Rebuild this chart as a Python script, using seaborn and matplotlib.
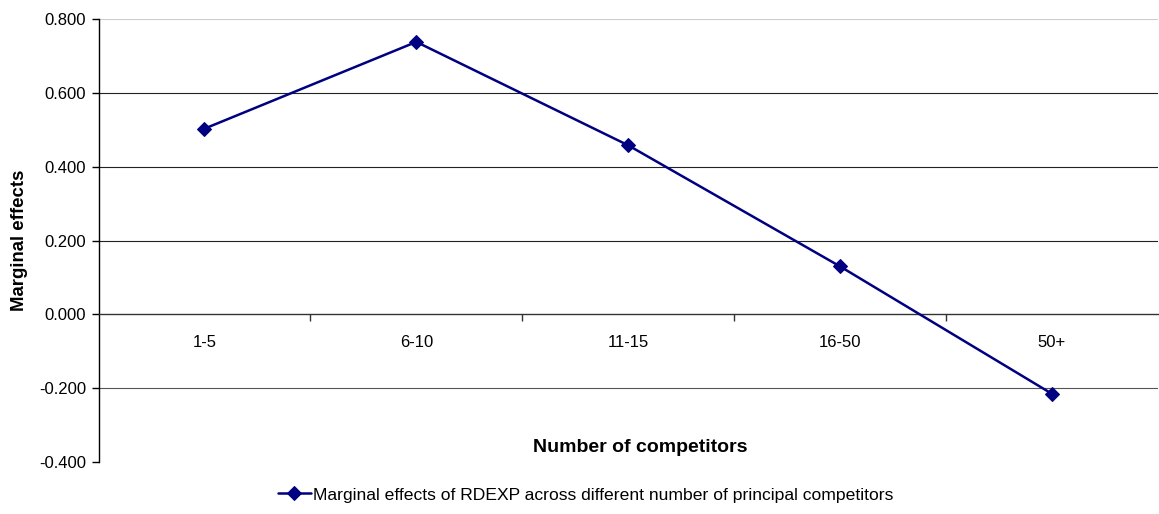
import matplotlib
matplotlib.use("Agg")
import matplotlib.pyplot as plt
import seaborn as sns
import numpy as np
import pandas as pd

# Valores
categorias = ["1-5", "6-10", "11-15", "16-50", "50+"]
efeitos = [0.503, 0.738, 0.458, 0.130, -0.215]
y_ticks = [-0.4, -0.2, 0.0, 0.2, 0.4, 0.6, 0.8]
serie_label = "Marginal effects of RDEXP across different number of principal competitors"

sns.set_style("white")
plt.rcParams["font.family"] = ["Liberation Sans", "DejaVu Sans"]
plt.rcParams["text.color"] = "black"
plt.rcParams["axes.labelcolor"] = "black"
plt.rcParams["xtick.color"] = "black"
plt.rcParams["ytick.color"] = "black"

df = pd.DataFrame({"cat": categorias, "val": efeitos})

fig = plt.figure(figsize=(11.59, 5.14), dpi=100)
ax = fig.add_axes([0.085, 0.101, 0.914, 0.862])

# Grade horizontal
cores_grade = {-0.2: "#555555", 0.2: "#222222", 0.4: "#222222", 0.6: "#222222", 0.8: "#cccccc"}
for yv, cor in cores_grade.items():
    ax.axhline(yv, color=cor, lw=0.8, zorder=1)
ax.axhline(-0.4, color="#eeeeee", lw=0.8, zorder=1)

sns.lineplot(data=df, x="cat", y="val", marker="D", markersize=7, color="#000080",
             markeredgecolor="#000080", lw=1.8, sort=False, ax=ax, label=serie_label, zorder=3)

ax.set_xlim(-0.5, len(categorias) - 0.5)
ax.set_ylim(-0.4, 0.8)
ax.set_yticks(y_ticks)
ax.set_yticklabels([f"{v:.3f}" for v in y_ticks], fontsize=12)

# Eixo das categorias cruza em zero
for s in ["top", "right"]:
    ax.spines[s].set_visible(False)
ax.spines["bottom"].set_position(("data", 0))
ax.spines["bottom"].set_color("#333333")
ax.spines["bottom"].set_linewidth(1.0)
ax.spines["left"].set_color("black")
ax.spines["left"].set_linewidth(1.0)
ax.set_xticks(range(len(categorias)))
ax.set_xticklabels(categorias, fontsize=12)
ax.set_xticks(np.arange(0.5, len(categorias) - 0.5, 1), minor=True)
ax.tick_params(axis="x", which="major", bottom=True, length=0, pad=15)
ax.tick_params(axis="x", which="minor", bottom=True, length=5, width=1, direction="out", color="#333333")
ax.tick_params(axis="y", length=5, width=1, direction="out", left=True, color="black", pad=4)

ax.set_xlabel("")
ax.set_ylabel("Marginal effects", fontsize=13.4, fontweight="bold", labelpad=8)
fig.text(0.552, 0.13, "Number of competitors", fontsize=14, fontweight="bold", ha="center", va="center")

leg = ax.legend(loc="center", bbox_to_anchor=(0.505, 0.037), bbox_transform=fig.transFigure,
                frameon=False, fontsize=12.6, handlelength=1.9, handletextpad=0.1)

fig.savefig("out.png", dpi=100)
